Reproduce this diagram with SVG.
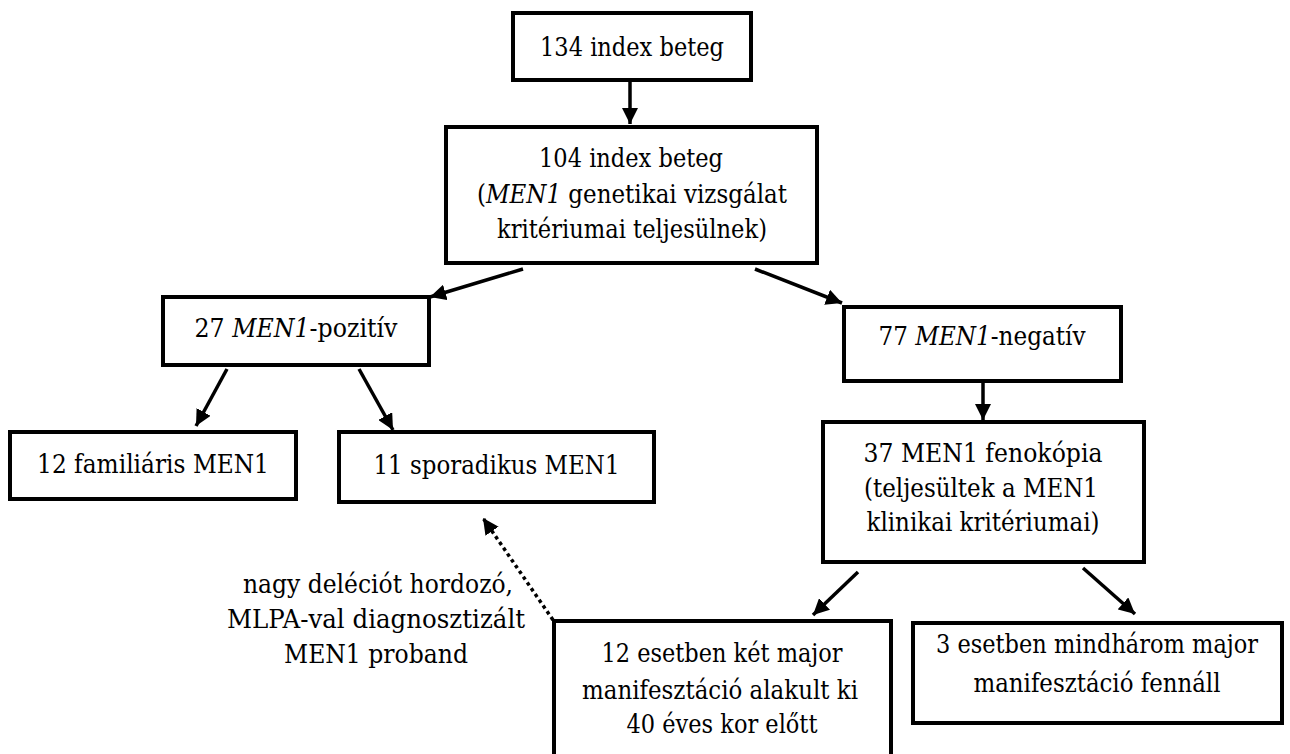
<svg xmlns="http://www.w3.org/2000/svg" width="1290" height="754" viewBox="0 0 1290 754">
<style>
.box{fill:#fff;stroke:#000;stroke-width:4}
.t{font-family:'DejaVu Serif','Liberation Serif',serif;font-size:26.5px;fill:#000;text-anchor:middle}
.c{stroke:#000;stroke-width:3.5;fill:none}
.d{stroke:#000;stroke-width:3.5;fill:none;stroke-dasharray:3.5 3.5}
</style>
<defs>
<marker id="ah" markerUnits="userSpaceOnUse" markerWidth="17" markerHeight="16" refX="16" refY="8" orient="auto">
<path d="M0,0 L16,8 L0,16 z" fill="#000"/>
</marker>
</defs>
<rect width="1290" height="754" fill="#fff"/>
<g id="connectors">
<line class="c" x1="630" y1="80" x2="630" y2="124" marker-end="url(#ah)"/>
<line class="c" x1="523" y1="269" x2="430" y2="297" marker-end="url(#ah)"/>
<line class="c" x1="755" y1="269" x2="842" y2="303" marker-end="url(#ah)"/>
<line class="c" x1="227" y1="369" x2="196" y2="426" marker-end="url(#ah)"/>
<line class="c" x1="359" y1="369" x2="393" y2="430" marker-end="url(#ah)"/>
<line class="c" x1="983" y1="381" x2="983" y2="420" marker-end="url(#ah)"/>
<line class="c" x1="858" y1="572" x2="813" y2="615" marker-end="url(#ah)"/>
<line class="c" x1="1083" y1="568" x2="1135" y2="614" marker-end="url(#ah)"/>
<line class="d" x1="553" y1="620" x2="483" y2="518" marker-end="url(#ah)"/>
</g>
<g id="n1">
<rect class="box" x="513" y="13" width="238" height="67"/>
<text class="t" transform="matrix(0.884 0 0 1 632 0)" x="0" y="56" textLength="208.1" lengthAdjust="spacingAndGlyphs">134 index beteg</text>
</g>
<g id="n2">
<rect class="box" x="446" y="127" width="371" height="136"/>
<text class="t" transform="matrix(0.884 0 0 1 631 0)" x="0" y="167" textLength="208.1" lengthAdjust="spacingAndGlyphs">104 index beteg</text>
<text class="t" transform="matrix(0.885 0 0 1 632 0)" x="0" y="203" textLength="350.3" lengthAdjust="spacingAndGlyphs">(<tspan font-style="italic">MEN1</tspan> genetikai vizsgálat</text>
<text class="t" transform="matrix(0.852 0 0 1 632 0)" x="0" y="238" textLength="316.8" lengthAdjust="spacingAndGlyphs">kritériumai teljesülnek)</text>
</g>
<g id="n3">
<rect class="box" x="163" y="297" width="266" height="68"/>
<text class="t" transform="matrix(0.923 0 0 1 296 0)" x="0" y="337" textLength="220" lengthAdjust="spacingAndGlyphs">27 <tspan font-style="italic">MEN1</tspan>-pozitív</text>
</g>
<g id="n4">
<rect class="box" x="10" y="432" width="286" height="67"/>
<text class="t" transform="matrix(0.903 0 0 1 153 0)" x="0" y="473" textLength="256.8" lengthAdjust="spacingAndGlyphs">12 familiáris MEN1</text>
</g>
<g id="n5">
<rect class="box" x="339" y="432" width="315" height="70"/>
<text class="t" transform="matrix(0.887 0 0 1 496.5 0)" x="0" y="474" textLength="277.3" lengthAdjust="spacingAndGlyphs">11 sporadikus MEN1</text>
</g>
<g id="n6">
<rect class="box" x="844" y="307" width="277" height="74"/>
<text class="t" transform="matrix(0.899 0 0 1 982 0)" x="0" y="345" textLength="230.3" lengthAdjust="spacingAndGlyphs">77 <tspan font-style="italic">MEN1</tspan>-negatív</text>
</g>
<g id="n7">
<rect class="box" x="823" y="422" width="321" height="140"/>
<text class="t" transform="matrix(0.912 0 0 1 983 0)" x="0" y="462" textLength="262" lengthAdjust="spacingAndGlyphs">37 MEN1 fenokópia</text>
<text class="t" transform="matrix(0.89 0 0 1 981 0)" x="0" y="497" textLength="262.9" lengthAdjust="spacingAndGlyphs">(teljesültek a MEN1</text>
<text class="t" transform="matrix(0.866 0 0 1 983 0)" x="0" y="531" textLength="269.1" lengthAdjust="spacingAndGlyphs">klinikai kritériumai)</text>
</g>
<g id="n8">
<rect class="box" x="554" y="621" width="337" height="150"/>
<text class="t" transform="matrix(0.847 0 0 1 722 0)" x="0" y="662" textLength="284.6" lengthAdjust="spacingAndGlyphs">12 esetben két major</text>
<text class="t" transform="matrix(0.865 0 0 1 720 0)" x="0" y="699" textLength="319.1" lengthAdjust="spacingAndGlyphs">manifesztáció alakult ki</text>
<text class="t" transform="matrix(0.848 0 0 1 722 0)" x="0" y="733" textLength="225.1" lengthAdjust="spacingAndGlyphs">40 éves kor előtt</text>
</g>
<g id="n9">
<rect class="box" x="913" y="623" width="369" height="100"/>
<text class="t" transform="matrix(0.849 0 0 1 1097 0)" x="0" y="653" textLength="379.5" lengthAdjust="spacingAndGlyphs">3 esetben mindhárom major</text>
<text class="t" transform="matrix(0.864 0 0 1 1097 0)" x="0" y="692" textLength="285.9" lengthAdjust="spacingAndGlyphs">manifesztáció fennáll</text>
</g>
<g id="note">
<text class="t" transform="matrix(0.885 0 0 1 378 0)" x="0" y="593" textLength="305.2" lengthAdjust="spacingAndGlyphs">nagy deléciót hordozó,</text>
<text class="t" transform="matrix(0.931 0 0 1 376 0)" x="0" y="628" textLength="320.2" lengthAdjust="spacingAndGlyphs">MLPA-val diagnosztizált</text>
<text class="t" transform="matrix(0.918 0 0 1 376 0)" x="0" y="663" textLength="200.3" lengthAdjust="spacingAndGlyphs">MEN1 proband</text>
</g>
</svg>
